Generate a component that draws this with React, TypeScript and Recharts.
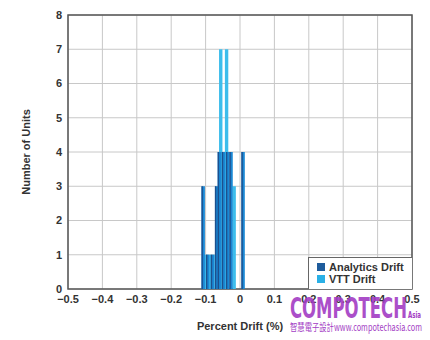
import { ComposedChart, Bar, XAxis, YAxis, CartesianGrid, ReferenceArea } from 'recharts'

// percent drift (%) of each bar
const analyticsDrift = [-0.107, -0.094, -0.08, -0.068, -0.06, -0.048, -0.036, -0.026, 0.009]
const analyticsUnits = [3, 1, 1, 3, 4, 4, 4, 4, 4]
const vttDrift = [-0.099, -0.089, -0.078, -0.056, -0.039, -0.017]
const vttUnits = [1, 1, 1, 7, 7, 3]

const xTicks = [-0.5, -0.4, -0.3, -0.2, -0.1, 0, 0.1, 0.2, 0.3, 0.4, 0.5]
const yTicks = [0, 1, 2, 3, 4, 5, 6, 7, 8]

const SERIES = [
  { name: 'Analytics Drift', color: '#1f5c9c' },
  { name: 'VTT Drift', color: '#2ab0e6' },
]

const rows = [
  ...vttDrift.map((x, i) => ({ x, vtt: vttUnits[i] })),
  ...analyticsDrift.map((x, i) => ({ x, analytics: analyticsUnits[i] })),
]

const FONT = '"Liberation Sans", Arial, sans-serif'
const tickStyle = { fontSize: 11, fontWeight: 700, fill: '#333', fontFamily: FONT }
const BAR_W = 3.4

const fmt = (v: number) => (v < 0 ? '\u2212' + Math.abs(v) : String(v))

// recharts squeezes bars on a number axis, so keep them at bin width around their centre
function VttShape(props: any) {
  const { x, y, width, height } = props
  if (!height) return null
  const cx = x + width / 2
  return <rect x={cx - BAR_W / 2} y={y} width={BAR_W} height={height} fill="#3dbdec" />
}

function AnalyticsShape(props: any) {
  const { x, y, width, height } = props
  if (!height) return null
  const left = x + width / 2 - BAR_W / 2
  return (
    <g>
      <rect x={left} y={y} width={BAR_W} height={height} fill="#1a88d4" />
      <rect x={left} y={y} width={1.4} height={height} fill="#1d4f8d" />
    </g>
  )
}

function LegendBox() {
  return (
    <div style={{ position: 'absolute', left: 308, top: 257, width: 104, height: 32, boxSizing: 'border-box', border: '1px solid #666', borderRight: 'none', borderBottom: 'none', background: '#fff', padding: '3px 0 0 8px', fontFamily: FONT, fontSize: 11, fontWeight: 700, color: '#333', lineHeight: '12px' }}>
      {SERIES.map(s => (
        <div key={s.name} style={{ display: 'flex', alignItems: 'center' }}>
          <span style={{ width: 8, height: 8, background: s.color, marginRight: 4, display: 'inline-block' }} />
          {s.name}
        </div>
      ))}
    </div>
  )
}

export default function App() {
  return (
    <div style={{ position: 'absolute', left: 0, top: 0, width: 430, height: 340, background: '#fff' }}>
      <ComposedChart width={430} height={340} data={rows} margin={{ top: 15, right: 18, bottom: 0, left: 0 }}>
        <CartesianGrid xAxisId="a" stroke="#c8c8c8" strokeWidth={1} />
        <XAxis xAxisId="a" dataKey="x" type="number" domain={[-0.5, 0.5]} ticks={xTicks} tickFormatter={fmt}
          height={51} tickSize={0} tickMargin={6} axisLine={false} tick={tickStyle} interval={0}
          label={{ value: 'Percent Drift (%)', position: 'insideBottom', offset: 10, style: { ...tickStyle, textAnchor: 'middle' } }} />
        <XAxis xAxisId="b" dataKey="x" type="number" domain={[-0.5, 0.5]} ticks={xTicks} hide />
        <YAxis domain={[0, 8]} ticks={yTicks} width={68} tickSize={0} tickMargin={6} axisLine={false} tick={tickStyle} interval={0}
          label={{ value: 'Number of Units', angle: -90, position: 'insideLeft', offset: 26, style: { ...tickStyle, textAnchor: 'middle' } }} />
        <Bar xAxisId="b" dataKey="vtt" name="VTT Drift" fill="#3dbdec" shape={VttShape} isAnimationActive={false} />
        <Bar xAxisId="a" dataKey="analytics" name="Analytics Drift" fill="#1a88d4" shape={AnalyticsShape} isAnimationActive={false} />
        <ReferenceArea xAxisId="a" x1={-0.5} x2={0.5} y1={0} y2={8} fill="none" stroke="#555" strokeWidth={1.5} />
      </ComposedChart>
      <LegendBox />
      <svg width={430} height={340} style={{ position: 'absolute', left: 0, top: 0, pointerEvents: 'none' }}>
        <text x={290} y={318} fill="#a33cc4" fontFamily='"DejaVu Sans Condensed", "DejaVu Sans", sans-serif' fontWeight={700} fontSize={28}
          textLength={117} lengthAdjust="spacingAndGlyphs" opacity={0.9}>COMPOTECH</text>
        <text x={408} y={318} fill="#a33cc4" fontFamily='"DejaVu Sans Condensed", sans-serif' fontWeight={700} fontSize={9} textLength={13} lengthAdjust="spacingAndGlyphs">Asia</text>
        <text x={290} y={331} fill="#a33cc4" fontFamily='"Noto Sans CJK TC", sans-serif' fontSize={10} textLength={132} lengthAdjust="spacingAndGlyphs">智慧電子設計www.compotechasia.com</text>
      </svg>
    </div>
  )
}
